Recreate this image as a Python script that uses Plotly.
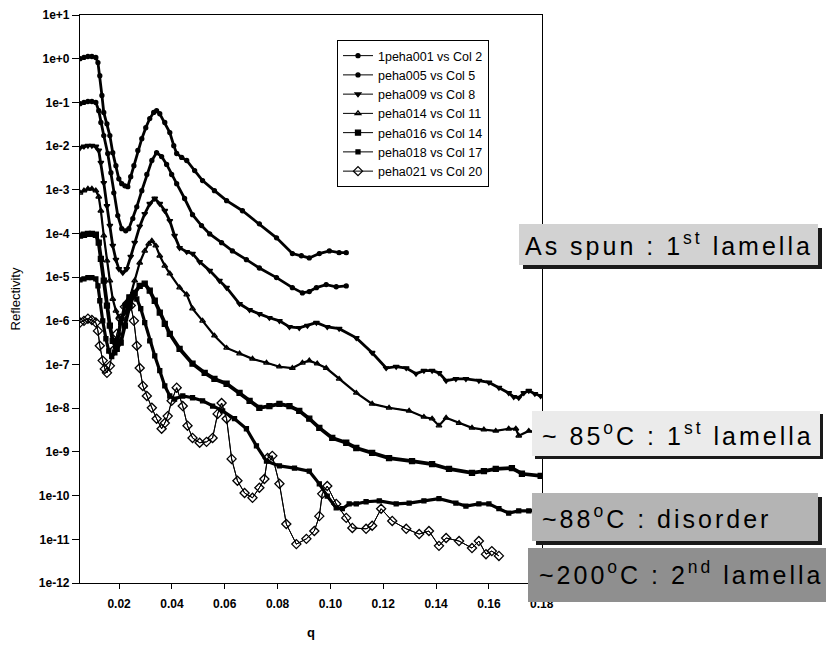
import plotly.graph_objects as go

# ---------------- data ----------------
series_names = ["1peha001 vs Col 2", "peha005 vs Col 5", "peha009 vs Col 8",
                "peha014 vs Col 11", "peha016 vs Col 14", "peha018 vs Col 17",
                "peha021 vs Col 20"]

# q values and log10(Reflectivity) values per series
q_s1 = [0.0052, 0.0067, 0.0082, 0.0097, 0.0112, 0.0120, 0.0127, 0.0135, 0.0142, 0.0154,
        0.0165, 0.0176, 0.0188, 0.0199, 0.0210, 0.0222, 0.0233, 0.0244, 0.0256, 0.0271,
        0.0286, 0.0301, 0.0316, 0.0331, 0.0342, 0.0354, 0.0373, 0.0392, 0.0407, 0.0418,
        0.0437, 0.0456, 0.0486, 0.0516, 0.0561, 0.0607, 0.0667, 0.0731, 0.0796, 0.0856,
        0.0890, 0.0920, 0.0958, 0.0996, 0.1033, 0.1060]
log_s1 = [0.00, 0.03, 0.05, 0.05, 0.03, -0.09, -0.39, -0.84, -1.23, -1.49,
          -1.76, -2.15, -2.45, -2.75, -2.86, -2.91, -2.93, -2.70, -2.45, -2.10,
          -1.83, -1.58, -1.37, -1.23, -1.19, -1.26, -1.46, -1.69, -1.99, -2.17,
          -2.26, -2.33, -2.56, -2.79, -3.02, -3.25, -3.48, -3.78, -4.10, -4.46,
          -4.51, -4.56, -4.46, -4.40, -4.44, -4.44]

q_s2 = [0.0052, 0.0067, 0.0082, 0.0097, 0.0112, 0.0123, 0.0131, 0.0142, 0.0157, 0.0169,
        0.0180, 0.0195, 0.0210, 0.0225, 0.0237, 0.0252, 0.0267, 0.0286, 0.0305, 0.0324,
        0.0342, 0.0361, 0.0380, 0.0399, 0.0418, 0.0448, 0.0478, 0.0512, 0.0543, 0.0588,
        0.0629, 0.0682, 0.0731, 0.0796, 0.0856, 0.0894, 0.0920, 0.0947, 0.0984, 0.1022,
        0.1060]
log_s2 = [-1.03, -1.00, -0.98, -0.98, -1.00, -1.19, -1.46, -1.76, -2.17, -2.61,
          -3.07, -3.59, -3.89, -3.94, -3.89, -3.66, -3.39, -3.02, -2.65, -2.33,
          -2.15, -2.24, -2.42, -2.65, -2.86, -3.20, -3.57, -3.82, -4.01, -4.21,
          -4.40, -4.60, -4.79, -5.01, -5.24, -5.36, -5.33, -5.24, -5.17, -5.22,
          -5.20]

q_s3 = [0.0052, 0.0067, 0.0082, 0.0097, 0.0112, 0.0123, 0.0131, 0.0142, 0.0154, 0.0165,
        0.0176, 0.0188, 0.0199, 0.0214, 0.0229, 0.0244, 0.0259, 0.0278, 0.0297, 0.0316,
        0.0335, 0.0354, 0.0373, 0.0392, 0.0410, 0.0429, 0.0456, 0.0478, 0.0505, 0.0543,
        0.0580, 0.0607, 0.0656, 0.0694, 0.0731, 0.0769, 0.0807, 0.0845, 0.0882, 0.0913,
        0.0947, 0.0988, 0.1033, 0.1098, 0.1158, 0.1211, 0.1249, 0.1287, 0.1324, 0.1354,
        0.1385, 0.1411, 0.1438, 0.1475, 0.1513, 0.1562, 0.1600, 0.1638, 0.1675, 0.1694,
        0.1713, 0.1732, 0.1751, 0.1774, 0.1796]
log_s3 = [-2.04, -2.01, -1.99, -1.99, -2.01, -2.10, -2.38, -2.84, -3.37, -3.82,
          -4.28, -4.60, -4.81, -4.90, -4.81, -4.53, -4.21, -3.84, -3.55, -3.32,
          -3.20, -3.32, -3.48, -3.71, -4.05, -4.33, -4.42, -4.46, -4.65, -4.85,
          -5.08, -5.24, -5.61, -5.75, -5.84, -5.93, -6.00, -6.14, -6.16, -6.11,
          -6.04, -6.14, -6.18, -6.39, -6.73, -7.08, -7.05, -7.08, -7.21, -7.14,
          -7.14, -7.19, -7.37, -7.33, -7.33, -7.37, -7.41, -7.53, -7.65, -7.74,
          -7.76, -7.65, -7.60, -7.67, -7.72]

q_s4 = [0.0052, 0.0067, 0.0082, 0.0097, 0.0112, 0.0123, 0.0131, 0.0142, 0.0154, 0.0165,
        0.0176, 0.0188, 0.0199, 0.0210, 0.0225, 0.0240, 0.0259, 0.0278, 0.0297, 0.0312,
        0.0324, 0.0339, 0.0354, 0.0373, 0.0392, 0.0429, 0.0456, 0.0478, 0.0516, 0.0561,
        0.0607, 0.0656, 0.0705, 0.0758, 0.0807, 0.0856, 0.0894, 0.0920, 0.0950, 0.0984,
        0.1033, 0.1098, 0.1158, 0.1222, 0.1298, 0.1354, 0.1385, 0.1411, 0.1438, 0.1487,
        0.1536, 0.1581, 0.1626, 0.1675, 0.1702, 0.1713, 0.1751, 0.1789]
log_s4 = [-3.07, -3.02, -2.98, -2.98, -3.02, -3.16, -3.48, -4.05, -4.62, -5.08,
          -5.50, -5.77, -5.91, -5.95, -5.81, -5.50, -5.08, -4.67, -4.40, -4.24,
          -4.17, -4.28, -4.51, -4.74, -4.92, -5.24, -5.40, -5.72, -6.00, -6.34,
          -6.62, -6.75, -6.87, -6.96, -7.05, -7.08, -6.96, -6.91, -6.98, -7.08,
          -7.33, -7.65, -7.90, -7.99, -8.06, -8.20, -8.24, -8.40, -8.22, -8.34,
          -8.45, -8.49, -8.52, -8.47, -8.47, -8.63, -8.52, -8.56]

q_s5 = [0.0052, 0.0067, 0.0082, 0.0097, 0.0112, 0.0123, 0.0131, 0.0142, 0.0154, 0.0165,
        0.0176, 0.0191, 0.0206, 0.0222, 0.0240, 0.0259, 0.0278, 0.0297, 0.0316, 0.0335,
        0.0354, 0.0373, 0.0392, 0.0429, 0.0478, 0.0524, 0.0561, 0.0607, 0.0656, 0.0694,
        0.0731, 0.0769, 0.0807, 0.0845, 0.0882, 0.0920, 0.0958, 0.1007, 0.1060, 0.1098,
        0.1158, 0.1222, 0.1309, 0.1385, 0.1449, 0.1536, 0.1581, 0.1626, 0.1687, 0.1725,
        0.1796]
log_s5 = [-4.05, -4.03, -4.01, -4.01, -4.03, -4.21, -4.58, -5.08, -5.65, -6.11,
          -6.46, -6.64, -6.50, -6.11, -5.65, -5.36, -5.20, -5.15, -5.31, -5.54,
          -5.81, -6.07, -6.30, -6.64, -6.98, -7.19, -7.33, -7.44, -7.65, -7.83,
          -7.99, -7.95, -7.90, -7.95, -8.06, -8.24, -8.45, -8.68, -8.79, -8.91,
          -9.02, -9.14, -9.21, -9.28, -9.39, -9.48, -9.44, -9.39, -9.37, -9.50,
          -9.55]

q_s6 = [0.0052, 0.0067, 0.0082, 0.0097, 0.0112, 0.0120, 0.0127, 0.0138, 0.0150, 0.0161,
        0.0172, 0.0184, 0.0195, 0.0206, 0.0222, 0.0237, 0.0252, 0.0267, 0.0282, 0.0297,
        0.0316, 0.0335, 0.0354, 0.0373, 0.0392, 0.0410, 0.0441, 0.0478, 0.0516, 0.0554,
        0.0592, 0.0637, 0.0682, 0.0720, 0.0758, 0.0807, 0.0864, 0.0920, 0.0958, 0.0988,
        0.1022, 0.1045, 0.1071, 0.1098, 0.1135, 0.1185, 0.1249, 0.1298, 0.1354, 0.1411,
        0.1475, 0.1513, 0.1562, 0.1600, 0.1638, 0.1675, 0.1713, 0.1751, 0.1796]
log_s6 = [-5.06, -5.04, -5.01, -5.01, -5.04, -5.20, -5.54, -6.00, -6.41, -6.69,
          -6.82, -6.73, -6.46, -6.04, -5.65, -5.45, -5.40, -5.50, -5.72, -6.04,
          -6.46, -6.80, -7.14, -7.49, -7.72, -7.79, -7.72, -7.76, -7.83, -7.95,
          -8.06, -8.24, -8.47, -8.86, -9.21, -9.32, -9.37, -9.44, -9.73, -10.01,
          -10.28, -10.30, -10.19, -10.19, -10.14, -10.12, -10.19, -10.17, -10.12, -10.07,
          -10.17, -10.24, -10.19, -10.19, -10.30, -10.40, -10.35, -10.35, -10.33]

q_s7 = [0.0052, 0.0067, 0.0082, 0.0097, 0.0112, 0.0120, 0.0127, 0.0138, 0.0146, 0.0154,
        0.0165, 0.0176, 0.0191, 0.0206, 0.0222, 0.0233, 0.0244, 0.0256, 0.0267, 0.0278,
        0.0290, 0.0305, 0.0324, 0.0342, 0.0361, 0.0373, 0.0384, 0.0399, 0.0418, 0.0441,
        0.0459, 0.0478, 0.0505, 0.0531, 0.0554, 0.0573, 0.0588, 0.0607, 0.0626, 0.0648,
        0.0675, 0.0705, 0.0731, 0.0750, 0.0762, 0.0780, 0.0807, 0.0833, 0.0871, 0.0909,
        0.0939, 0.0958, 0.0969, 0.0988, 0.1022, 0.1060, 0.1083, 0.1135, 0.1158, 0.1192,
        0.1234, 0.1287, 0.1336, 0.1373, 0.1411, 0.1438, 0.1487, 0.1536, 0.1562, 0.1589,
        0.1611, 0.1638]
log_s7 = [-6.04, -6.00, -5.95, -5.98, -6.04, -6.23, -6.57, -6.91, -7.10, -7.19,
          -7.03, -6.69, -6.30, -5.95, -5.68, -5.59, -5.65, -6.00, -6.57, -7.08,
          -7.49, -7.72, -7.99, -8.24, -8.47, -8.34, -8.18, -7.83, -7.53, -7.95,
          -8.40, -8.68, -8.79, -8.77, -8.68, -8.13, -7.88, -8.24, -9.16, -9.66,
          -9.94, -10.05, -9.82, -9.62, -9.14, -9.09, -9.73, -10.65, -11.11, -10.99,
          -10.81, -10.47, -9.96, -9.78, -10.19, -10.51, -10.74, -10.76, -10.69, -10.30,
          -10.58, -10.76, -10.88, -10.81, -11.15, -10.97, -11.04, -11.20, -11.04, -11.34,
          -11.27, -11.38]

q_all = [q_s1, q_s2, q_s3, q_s4, q_s5, q_s6, q_s7]
log_all = [log_s1, log_s2, log_s3, log_s4, log_s5, log_s6, log_s7]

y_tick_exponents = list(range(1, -13, -1))
y_tick_labels = ["1e+1", "1e+0"] + ["1e%d" % k for k in range(-1, -13, -1)]
x_tick_values = [0.02, 0.04, 0.06, 0.08, 0.10, 0.12, 0.14, 0.16, 0.18]
x_tick_labels = ["0.02", "0.04", "0.06", "0.08", "0.10", "0.12", "0.14", "0.16", "0.18"]

box_texts = [
    "As spun : 1<sup>st</sup> lamella",
    "~ 85<sup>o</sup>C : 1<sup>st</sup> lamella",
    "~88<sup>o</sup>C : disorder",
    "~200<sup>o</sup>C : 2<sup>nd</sup> lamella",
]

# ---------------- styles ----------------
FONT = "Liberation Sans, Arial, sans-serif"
band_widths = [2.8, 2.8, 2.8, 2.2, 3.8, 3.2, 1.0]
symbols = ["circle", "circle", "triangle-down", "triangle-up-open", "square", "square", "diamond-open"]
msizes = [4, 4, 5, 5, 5, 4, 7]

# page body has an 8px margin; all positions below are in screenshot pixels
PAGE = 8
SHOT_W, SHOT_H = 834, 646
W, H = SHOT_W - PAGE, SHOT_H - PAGE
L, R, T, B = 80, 542, 15, 583   # plot area in screenshot pixels


def px_x(px):
    return (px - L) / (R - L)


def px_y(py):
    return (B - py) / (B - T)


fig = go.Figure()

for i in range(7):
    refl = [10 ** v for v in log_all[i]]
    fig.add_trace(go.Scatter(
        x=q_all[i], y=refl, mode="lines", showlegend=False, hoverinfo="skip",
        line=dict(color="black", width=band_widths[i])))
    fig.add_trace(go.Scatter(
        x=q_all[i], y=refl, mode="lines+markers", name=series_names[i],
        line=dict(color="black", width=1),
        marker=dict(symbol=symbols[i], size=msizes[i], color="black",
                    line=dict(color="black", width=1.3))))

# annotation boxes: (fill rect px, shadow offset, fill colour, text x px, text centre y px, letter spacing)
boxes = [
    ((519, 224, 818, 265), 4, "#d2d2d2", 523, 244, 3),
    ((532, 411, 820, 456), 3, "#ebebeb", 540, 434, 3),
    ((532, 493, 818, 541), 4, "#b4b4b4", 540, 517, 3),
    ((528, 548, 840, 602), 0, "#8f8f8f", 537, 573, 3),
]
shapes = []
annotations = []
for (x0, y0, x1, y1), off, col, tx, ty, ls in boxes:
    if off:
        shapes.append(dict(type="rect", xref="paper", yref="paper", layer="above",
                           x0=px_x(x0 + off), x1=px_x(x1 + off), y0=px_y(y1 + off), y1=px_y(y0 + off),
                           fillcolor="#1a1a1a", line=dict(width=0)))
    shapes.append(dict(type="rect", xref="paper", yref="paper", layer="above",
                       x0=px_x(x0), x1=px_x(x1), y0=px_y(y1), y1=px_y(y0),
                       fillcolor=col, line=dict(width=0)))
for (box, off, col, tx, ty, ls), txt in zip(boxes, box_texts):
    annotations.append(dict(
        xref="paper", yref="paper", x=px_x(tx), y=px_y(ty), xanchor="left", yanchor="middle",
        showarrow=False,
        text='<span style="letter-spacing:%dpx">' % ls + txt + '</span>',
        font=dict(family=FONT, size=25, color="black")))

fig.update_layout(
    width=W, height=H,
    margin=dict(l=L - PAGE, r=SHOT_W - R, t=T - PAGE, b=SHOT_H - B, pad=0, autoexpand=False),
    paper_bgcolor="white", plot_bgcolor="white",
    font=dict(family=FONT, color="black"),
    showlegend=True,
    legend=dict(x=px_x(337), y=px_y(40), xanchor="left", yanchor="top",
                bgcolor="white", bordercolor="black", borderwidth=1,
                font=dict(family=FONT, size=12.5, color="black"),
                tracegroupgap=0, itemwidth=30),
    shapes=shapes,
    annotations=annotations,
)

fig.update_xaxes(
    range=[0.0052, 0.1801], tickvals=x_tick_values, ticktext=x_tick_labels,
    ticks="outside", ticklen=5, tickwidth=1, tickcolor="black",
    showline=True, linecolor="black", linewidth=1.2, mirror=True,
    showgrid=False, zeroline=False, ticklabelstandoff=4, automargin=False,
    tickfont=dict(family=FONT, size=12, color="black", weight="bold"),
    title=dict(text="q", font=dict(family=FONT, size=13, color="black", weight="bold"), standoff=18))

fig.update_yaxes(
    type="log", range=[-12, 1], tickvals=[10 ** k for k in y_tick_exponents], ticktext=y_tick_labels,
    ticks="outside", ticklen=7, tickwidth=1, tickcolor="black",
    showline=True, linecolor="black", linewidth=1.2, mirror=True,
    showgrid=False, zeroline=False, automargin=False,
    tickfont=dict(family=FONT, size=12, color="black", weight="bold"),
    title=dict(text="Reflectivity", font=dict(family=FONT, size=13, color="black"), standoff=16))

fig.write_html("out.html")
